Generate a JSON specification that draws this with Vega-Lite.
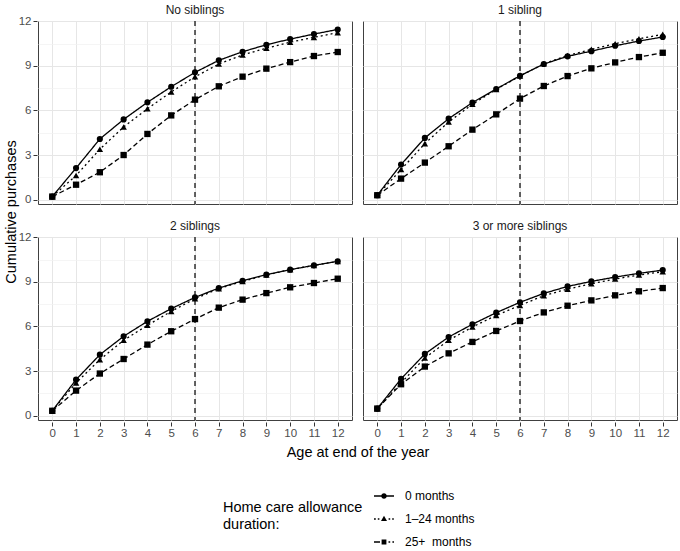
{
  "$schema": "https://vega.github.io/schema/vega-lite/v6.json",
  "padding": {"left": 3, "top": 3, "right": 3, "bottom": 0},
  "config": {
    "font": "Liberation Sans",
    "view": {"stroke": "#404040", "strokeWidth": 1}
  },
  "data": {
    "values": [
      {"siblings": "No siblings", "duration": "0 months", "age": 0, "purchases": 0.2},
      {"siblings": "No siblings", "duration": "0 months", "age": 1, "purchases": 2.12},
      {"siblings": "No siblings", "duration": "0 months", "age": 2, "purchases": 4.08},
      {"siblings": "No siblings", "duration": "0 months", "age": 3, "purchases": 5.4},
      {"siblings": "No siblings", "duration": "0 months", "age": 4, "purchases": 6.55},
      {"siblings": "No siblings", "duration": "0 months", "age": 5, "purchases": 7.6},
      {"siblings": "No siblings", "duration": "0 months", "age": 6, "purchases": 8.57},
      {"siblings": "No siblings", "duration": "0 months", "age": 7, "purchases": 9.38},
      {"siblings": "No siblings", "duration": "0 months", "age": 8, "purchases": 9.96},
      {"siblings": "No siblings", "duration": "0 months", "age": 9, "purchases": 10.43},
      {"siblings": "No siblings", "duration": "0 months", "age": 10, "purchases": 10.81},
      {"siblings": "No siblings", "duration": "0 months", "age": 11, "purchases": 11.15},
      {"siblings": "No siblings", "duration": "0 months", "age": 12, "purchases": 11.46},
      {"siblings": "No siblings", "duration": "1–24 months", "age": 0, "purchases": 0.2},
      {"siblings": "No siblings", "duration": "1–24 months", "age": 1, "purchases": 1.62},
      {"siblings": "No siblings", "duration": "1–24 months", "age": 2, "purchases": 3.39},
      {"siblings": "No siblings", "duration": "1–24 months", "age": 3, "purchases": 4.89},
      {"siblings": "No siblings", "duration": "1–24 months", "age": 4, "purchases": 6.12},
      {"siblings": "No siblings", "duration": "1–24 months", "age": 5, "purchases": 7.25},
      {"siblings": "No siblings", "duration": "1–24 months", "age": 6, "purchases": 8.27},
      {"siblings": "No siblings", "duration": "1–24 months", "age": 7, "purchases": 9.13},
      {"siblings": "No siblings", "duration": "1–24 months", "age": 8, "purchases": 9.74},
      {"siblings": "No siblings", "duration": "1–24 months", "age": 9, "purchases": 10.2},
      {"siblings": "No siblings", "duration": "1–24 months", "age": 10, "purchases": 10.6},
      {"siblings": "No siblings", "duration": "1–24 months", "age": 11, "purchases": 10.93},
      {"siblings": "No siblings", "duration": "1–24 months", "age": 12, "purchases": 11.24},
      {"siblings": "No siblings", "duration": "25+  months", "age": 0, "purchases": 0.2},
      {"siblings": "No siblings", "duration": "25+  months", "age": 1, "purchases": 1.0},
      {"siblings": "No siblings", "duration": "25+  months", "age": 2, "purchases": 1.84},
      {"siblings": "No siblings", "duration": "25+  months", "age": 3, "purchases": 3.0},
      {"siblings": "No siblings", "duration": "25+  months", "age": 4, "purchases": 4.42},
      {"siblings": "No siblings", "duration": "25+  months", "age": 5, "purchases": 5.67},
      {"siblings": "No siblings", "duration": "25+  months", "age": 6, "purchases": 6.73},
      {"siblings": "No siblings", "duration": "25+  months", "age": 7, "purchases": 7.63},
      {"siblings": "No siblings", "duration": "25+  months", "age": 8, "purchases": 8.28},
      {"siblings": "No siblings", "duration": "25+  months", "age": 9, "purchases": 8.82},
      {"siblings": "No siblings", "duration": "25+  months", "age": 10, "purchases": 9.26},
      {"siblings": "No siblings", "duration": "25+  months", "age": 11, "purchases": 9.67},
      {"siblings": "No siblings", "duration": "25+  months", "age": 12, "purchases": 9.94},
      {"siblings": "1 sibling", "duration": "0 months", "age": 0, "purchases": 0.29},
      {"siblings": "1 sibling", "duration": "0 months", "age": 1, "purchases": 2.36},
      {"siblings": "1 sibling", "duration": "0 months", "age": 2, "purchases": 4.15},
      {"siblings": "1 sibling", "duration": "0 months", "age": 3, "purchases": 5.45},
      {"siblings": "1 sibling", "duration": "0 months", "age": 4, "purchases": 6.53},
      {"siblings": "1 sibling", "duration": "0 months", "age": 5, "purchases": 7.45},
      {"siblings": "1 sibling", "duration": "0 months", "age": 6, "purchases": 8.34},
      {"siblings": "1 sibling", "duration": "0 months", "age": 7, "purchases": 9.13},
      {"siblings": "1 sibling", "duration": "0 months", "age": 8, "purchases": 9.65},
      {"siblings": "1 sibling", "duration": "0 months", "age": 9, "purchases": 10.0},
      {"siblings": "1 sibling", "duration": "0 months", "age": 10, "purchases": 10.36},
      {"siblings": "1 sibling", "duration": "0 months", "age": 11, "purchases": 10.68},
      {"siblings": "1 sibling", "duration": "0 months", "age": 12, "purchases": 10.95},
      {"siblings": "1 sibling", "duration": "1–24 months", "age": 0, "purchases": 0.29},
      {"siblings": "1 sibling", "duration": "1–24 months", "age": 1, "purchases": 2.02},
      {"siblings": "1 sibling", "duration": "1–24 months", "age": 2, "purchases": 3.77},
      {"siblings": "1 sibling", "duration": "1–24 months", "age": 3, "purchases": 5.23},
      {"siblings": "1 sibling", "duration": "1–24 months", "age": 4, "purchases": 6.42},
      {"siblings": "1 sibling", "duration": "1–24 months", "age": 5, "purchases": 7.42},
      {"siblings": "1 sibling", "duration": "1–24 months", "age": 6, "purchases": 8.32},
      {"siblings": "1 sibling", "duration": "1–24 months", "age": 7, "purchases": 9.15},
      {"siblings": "1 sibling", "duration": "1–24 months", "age": 8, "purchases": 9.71},
      {"siblings": "1 sibling", "duration": "1–24 months", "age": 9, "purchases": 10.12},
      {"siblings": "1 sibling", "duration": "1–24 months", "age": 10, "purchases": 10.5},
      {"siblings": "1 sibling", "duration": "1–24 months", "age": 11, "purchases": 10.83},
      {"siblings": "1 sibling", "duration": "1–24 months", "age": 12, "purchases": 11.13},
      {"siblings": "1 sibling", "duration": "25+  months", "age": 0, "purchases": 0.29},
      {"siblings": "1 sibling", "duration": "25+  months", "age": 1, "purchases": 1.41},
      {"siblings": "1 sibling", "duration": "25+  months", "age": 2, "purchases": 2.49},
      {"siblings": "1 sibling", "duration": "25+  months", "age": 3, "purchases": 3.59},
      {"siblings": "1 sibling", "duration": "25+  months", "age": 4, "purchases": 4.71},
      {"siblings": "1 sibling", "duration": "25+  months", "age": 5, "purchases": 5.74},
      {"siblings": "1 sibling", "duration": "25+  months", "age": 6, "purchases": 6.8},
      {"siblings": "1 sibling", "duration": "25+  months", "age": 7, "purchases": 7.65},
      {"siblings": "1 sibling", "duration": "25+  months", "age": 8, "purchases": 8.32},
      {"siblings": "1 sibling", "duration": "25+  months", "age": 9, "purchases": 8.84},
      {"siblings": "1 sibling", "duration": "25+  months", "age": 10, "purchases": 9.24},
      {"siblings": "1 sibling", "duration": "25+  months", "age": 11, "purchases": 9.6},
      {"siblings": "1 sibling", "duration": "25+  months", "age": 12, "purchases": 9.89},
      {"siblings": "2 siblings", "duration": "0 months", "age": 0, "purchases": 0.32},
      {"siblings": "2 siblings", "duration": "0 months", "age": 1, "purchases": 2.42},
      {"siblings": "2 siblings", "duration": "0 months", "age": 2, "purchases": 4.1},
      {"siblings": "2 siblings", "duration": "0 months", "age": 3, "purchases": 5.34},
      {"siblings": "2 siblings", "duration": "0 months", "age": 4, "purchases": 6.35},
      {"siblings": "2 siblings", "duration": "0 months", "age": 5, "purchases": 7.2},
      {"siblings": "2 siblings", "duration": "0 months", "age": 6, "purchases": 7.96},
      {"siblings": "2 siblings", "duration": "0 months", "age": 7, "purchases": 8.59},
      {"siblings": "2 siblings", "duration": "0 months", "age": 8, "purchases": 9.08},
      {"siblings": "2 siblings", "duration": "0 months", "age": 9, "purchases": 9.49},
      {"siblings": "2 siblings", "duration": "0 months", "age": 10, "purchases": 9.83},
      {"siblings": "2 siblings", "duration": "0 months", "age": 11, "purchases": 10.12},
      {"siblings": "2 siblings", "duration": "0 months", "age": 12, "purchases": 10.39},
      {"siblings": "2 siblings", "duration": "1–24 months", "age": 0, "purchases": 0.32},
      {"siblings": "2 siblings", "duration": "1–24 months", "age": 1, "purchases": 2.2},
      {"siblings": "2 siblings", "duration": "1–24 months", "age": 2, "purchases": 3.77},
      {"siblings": "2 siblings", "duration": "1–24 months", "age": 3, "purchases": 5.07},
      {"siblings": "2 siblings", "duration": "1–24 months", "age": 4, "purchases": 6.08},
      {"siblings": "2 siblings", "duration": "1–24 months", "age": 5, "purchases": 7.02},
      {"siblings": "2 siblings", "duration": "1–24 months", "age": 6, "purchases": 7.87},
      {"siblings": "2 siblings", "duration": "1–24 months", "age": 7, "purchases": 8.55},
      {"siblings": "2 siblings", "duration": "1–24 months", "age": 8, "purchases": 9.04},
      {"siblings": "2 siblings", "duration": "1–24 months", "age": 9, "purchases": 9.47},
      {"siblings": "2 siblings", "duration": "1–24 months", "age": 10, "purchases": 9.83},
      {"siblings": "2 siblings", "duration": "1–24 months", "age": 11, "purchases": 10.12},
      {"siblings": "2 siblings", "duration": "1–24 months", "age": 12, "purchases": 10.39},
      {"siblings": "2 siblings", "duration": "25+  months", "age": 0, "purchases": 0.32},
      {"siblings": "2 siblings", "duration": "25+  months", "age": 1, "purchases": 1.68},
      {"siblings": "2 siblings", "duration": "25+  months", "age": 2, "purchases": 2.83},
      {"siblings": "2 siblings", "duration": "25+  months", "age": 3, "purchases": 3.81},
      {"siblings": "2 siblings", "duration": "25+  months", "age": 4, "purchases": 4.78},
      {"siblings": "2 siblings", "duration": "25+  months", "age": 5, "purchases": 5.68},
      {"siblings": "2 siblings", "duration": "25+  months", "age": 6, "purchases": 6.5},
      {"siblings": "2 siblings", "duration": "25+  months", "age": 7, "purchases": 7.27},
      {"siblings": "2 siblings", "duration": "25+  months", "age": 8, "purchases": 7.81},
      {"siblings": "2 siblings", "duration": "25+  months", "age": 9, "purchases": 8.25},
      {"siblings": "2 siblings", "duration": "25+  months", "age": 10, "purchases": 8.64},
      {"siblings": "2 siblings", "duration": "25+  months", "age": 11, "purchases": 8.93},
      {"siblings": "2 siblings", "duration": "25+  months", "age": 12, "purchases": 9.22},
      {"siblings": "3 or more siblings", "duration": "0 months", "age": 0, "purchases": 0.47},
      {"siblings": "3 or more siblings", "duration": "0 months", "age": 1, "purchases": 2.47},
      {"siblings": "3 or more siblings", "duration": "0 months", "age": 2, "purchases": 4.15},
      {"siblings": "3 or more siblings", "duration": "0 months", "age": 3, "purchases": 5.29},
      {"siblings": "3 or more siblings", "duration": "0 months", "age": 4, "purchases": 6.15},
      {"siblings": "3 or more siblings", "duration": "0 months", "age": 5, "purchases": 6.93},
      {"siblings": "3 or more siblings", "duration": "0 months", "age": 6, "purchases": 7.63},
      {"siblings": "3 or more siblings", "duration": "0 months", "age": 7, "purchases": 8.23},
      {"siblings": "3 or more siblings", "duration": "0 months", "age": 8, "purchases": 8.7},
      {"siblings": "3 or more siblings", "duration": "0 months", "age": 9, "purchases": 9.04},
      {"siblings": "3 or more siblings", "duration": "0 months", "age": 10, "purchases": 9.33},
      {"siblings": "3 or more siblings", "duration": "0 months", "age": 11, "purchases": 9.58},
      {"siblings": "3 or more siblings", "duration": "0 months", "age": 12, "purchases": 9.8},
      {"siblings": "3 or more siblings", "duration": "1–24 months", "age": 0, "purchases": 0.47},
      {"siblings": "3 or more siblings", "duration": "1–24 months", "age": 1, "purchases": 2.2},
      {"siblings": "3 or more siblings", "duration": "1–24 months", "age": 2, "purchases": 3.88},
      {"siblings": "3 or more siblings", "duration": "1–24 months", "age": 3, "purchases": 5.07},
      {"siblings": "3 or more siblings", "duration": "1–24 months", "age": 4, "purchases": 5.97},
      {"siblings": "3 or more siblings", "duration": "1–24 months", "age": 5, "purchases": 6.75},
      {"siblings": "3 or more siblings", "duration": "1–24 months", "age": 6, "purchases": 7.42},
      {"siblings": "3 or more siblings", "duration": "1–24 months", "age": 7, "purchases": 8.08},
      {"siblings": "3 or more siblings", "duration": "1–24 months", "age": 8, "purchases": 8.52},
      {"siblings": "3 or more siblings", "duration": "1–24 months", "age": 9, "purchases": 8.88},
      {"siblings": "3 or more siblings", "duration": "1–24 months", "age": 10, "purchases": 9.2},
      {"siblings": "3 or more siblings", "duration": "1–24 months", "age": 11, "purchases": 9.47},
      {"siblings": "3 or more siblings", "duration": "1–24 months", "age": 12, "purchases": 9.69},
      {"siblings": "3 or more siblings", "duration": "25+  months", "age": 0, "purchases": 0.47},
      {"siblings": "3 or more siblings", "duration": "25+  months", "age": 1, "purchases": 2.11},
      {"siblings": "3 or more siblings", "duration": "25+  months", "age": 2, "purchases": 3.3},
      {"siblings": "3 or more siblings", "duration": "25+  months", "age": 3, "purchases": 4.19},
      {"siblings": "3 or more siblings", "duration": "25+  months", "age": 4, "purchases": 4.96},
      {"siblings": "3 or more siblings", "duration": "25+  months", "age": 5, "purchases": 5.7},
      {"siblings": "3 or more siblings", "duration": "25+  months", "age": 6, "purchases": 6.37},
      {"siblings": "3 or more siblings", "duration": "25+  months", "age": 7, "purchases": 6.95},
      {"siblings": "3 or more siblings", "duration": "25+  months", "age": 8, "purchases": 7.4},
      {"siblings": "3 or more siblings", "duration": "25+  months", "age": 9, "purchases": 7.76},
      {"siblings": "3 or more siblings", "duration": "25+  months", "age": 10, "purchases": 8.1},
      {"siblings": "3 or more siblings", "duration": "25+  months", "age": 11, "purchases": 8.37},
      {"siblings": "3 or more siblings", "duration": "25+  months", "age": 12, "purchases": 8.59}
    ]
  },
  "transform": [
    {"calculate": "indexof(['No siblings', '1 sibling', '2 siblings', '3 or more siblings'], datum.siblings)", "as": "panel"},
    {"calculate": "floor(datum.panel / 2)", "as": "panelRow"},
    {"calculate": "datum.panel % 2", "as": "panelCol"}
  ],
  "facet": {
    "row": {
      "field": "panelRow",
      "type": "ordinal",
      "title": "Cumulative purchases",
      "header": {"labels": false, "titleOrient": "left", "titleFontSize": 14.5, "titleFontWeight": "normal", "titleColor": "black", "titlePadding": -11}
    },
    "column": {
      "field": "panelCol",
      "type": "ordinal",
      "title": "Age at end of the year",
      "header": {"labels": false, "titleOrient": "bottom", "titleFontSize": 14.5, "titleFontWeight": "normal", "titleColor": "black", "titlePadding": -3}
    }
  },
  "spacing": {"row": 13, "column": 9},
  "spec": {
    "width": 314,
    "height": 183,
    "encoding": {
      "x": {
        "field": "age",
        "type": "quantitative",
        "scale": {"domain": [-0.6, 12.6], "nice": false, "zero": false},
        "axis": {
          "title": null,
          "values": [0, 1, 2, 3, 4, 5, 6, 7, 8, 9, 10, 11, 12],
          "domain": false,
          "gridColor": "#e6e6e6",
          "gridWidth": 1,
          "tickColor": "#333333",
          "tickSize": 4,
          "labelColor": "#4d4d4d",
          "labelFontSize": 11.5,
          "labelPadding": 1,
          "labelFlush": false,
          "labelOverlap": false
        }
      },
      "y": {
        "field": "purchases",
        "type": "quantitative",
        "scale": {"domain": [-0.3, 12.03], "nice": false, "zero": false},
        "axis": {
          "title": null,
          "values": [0, 1.5, 3, 4.5, 6, 7.5, 9, 10.5, 12],
          "labelExpr": "datum.value % 3 == 0 ? datum.label : ''",
          "domain": false,
          "gridColor": {"condition": {"test": "datum.value % 3 != 0", "value": "#f0f0f0"}, "value": "#e6e6e6"},
          "gridWidth": {"condition": {"test": "datum.value % 3 != 0", "value": 0.7}, "value": 1},
          "tickOpacity": {"condition": {"test": "datum.value % 3 != 0", "value": 0}, "value": 1},
          "tickColor": "#333333",
          "tickSize": 4,
          "labelColor": "#4d4d4d",
          "labelFontSize": 11.5,
          "labelPadding": 2,
          "labelFlush": false
        }
      }
    },
    "layer": [
      {
        "transform": [{"filter": "datum.duration == '0 months' && datum.age == 6"}],
        "mark": {"type": "rule", "color": "black", "strokeWidth": 1.2, "strokeDash": [5, 4]},
        "encoding": {"x": {"datum": 6}, "y": null}
      },
      {
        "mark": {"type": "line", "color": "black", "strokeWidth": 1.3},
        "encoding": {
          "detail": {"field": "duration", "type": "nominal"},
          "strokeDash": {
            "condition": [
              {"test": "datum.duration == '0 months'", "value": [1, 0]},
              {"test": "datum.duration == '1–24 months'", "value": [2, 3]}
            ],
            "value": [5, 3]
          }
        }
      },
      {
        "mark": {"type": "point", "filled": true, "color": "black", "opacity": 1},
        "encoding": {
          "shape": {
            "condition": [
              {"test": "datum.duration == '0 months'", "value": "circle"},
              {"test": "datum.duration == '1–24 months'", "value": "triangle-up"}
            ],
            "value": "square"
          },
          "size": {
            "condition": [
              {"test": "datum.duration == '0 months'", "value": 38},
              {"test": "datum.duration == '1–24 months'", "value": 42}
            ],
            "value": 40
          }
        }
      },
      {
        "transform": [{"filter": "datum.duration == '0 months' && datum.age == 6"}],
        "mark": {"type": "text", "fontSize": 12, "color": "#1a1a1a", "baseline": "middle", "dy": -11},
        "encoding": {
          "y": {"datum": 12.03},
          "text": {"field": "siblings"}
        }
      },
      {
        "transform": [{"filter": "datum.age == 0"}],
        "mark": {"type": "point", "filled": true, "color": "black", "opacity": 0},
        "encoding": {
          "shape": {
            "field": "duration",
            "type": "nominal",
            "scale": {
              "domain": ["0 months", "1–24 months", "25+  months"],
              "range": [
                "M-1,-0.065H-0.26V0.065H-1ZM0.26,-0.065H1V0.065H0.26ZM0.28,0A0.28,0.28,0,1,1,-0.28,0A0.28,0.28,0,1,1,0.28,0Z",
                "M-1,-0.065H-0.82V0.065H-1ZM-0.62,-0.065H-0.46V0.065H-0.62ZM0.46,-0.065H0.62V0.065H0.46ZM0.82,-0.065H0.98V0.065H0.82ZM0,-0.32L0.3,0.2L-0.3,0.2Z",
                "M-1,-0.065H-0.4V0.065H-1ZM0.45,-0.065H0.62V0.065H0.45ZM0.84,-0.065H1V0.065H0.84ZM-0.24,-0.24H0.24V0.24H-0.24Z"
              ]
            },
            "legend": {
              "title": ["Home care allowance", "duration:"],
              "orient": "none",
              "legendX": 185,
              "legendY": 464,
              "direction": "vertical",
              "titleOrient": "left",
              "titleAnchor": "middle",
              "titleBaseline": "middle",
              "titleFontSize": 14.5,
              "titleFontWeight": "normal",
              "titleColor": "black",
              "titleLineHeight": 17,
              "titlePadding": 10,
              "labelFontSize": 12,
              "labelColor": "black",
              "labelOffset": 10,
              "labelExpr": "replace(datum.label, '  ', '\u00a0 ')",
              "symbolSize": 400,
              "symbolFillColor": "black",
              "symbolOpacity": 1,
              "rowPadding": 6,
              "encode": {
                "symbols": {
                  "update": {
                    "fill": {"value": "black"},
                    "opacity": {"value": 1}
                  }
                }
              }
            }
          }
        }
      }
    ]
  }
}
